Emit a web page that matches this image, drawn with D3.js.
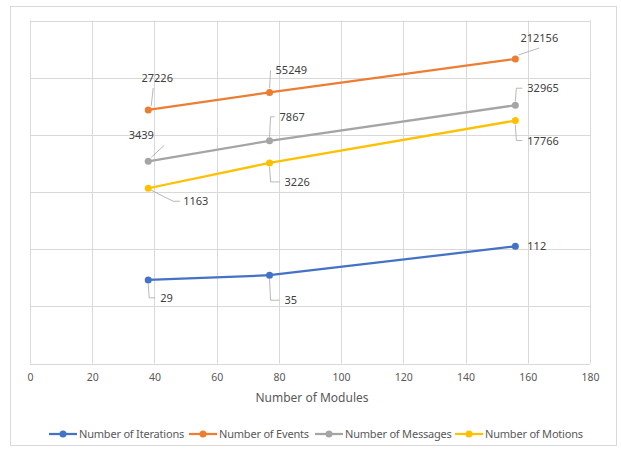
<!DOCTYPE html>
<html><head><meta charset="utf-8">
<script src="https://cdn.jsdelivr.net/npm/d3@7"></script>
<style>body{margin:0;background:#fff;} svg{display:block;font-family:"Noto Sans",sans-serif;}</style>
</head><body>
<svg id="c" width="621" height="451"></svg>
<script>
const modules = [38, 77, 156];
const iterations = [29, 35, 112];
const events = [27226, 55249, 212156];
const messages = [3439, 7867, 32965];
const motions = [1163, 3226, 17766];
const seriesNames = ["Number of Iterations", "Number of Events", "Number of Messages", "Number of Motions"];
const colors = ["#4472C4", "#ED7D31", "#A5A5A5", "#FFC000"];
const xTicks = [0, 20, 40, 60, 80, 100, 120, 140, 160, 180];
const yGrid = [1, 10, 100, 1000, 10000, 100000, 1000000];

const seriesValues = [iterations, events, messages, motions];
// label placement style per series/point: [dx, dy, leader type]
const labelStyle = [
  [{dx:12,dy:18,t:"dr"},{dx:15,dy:25,t:"dr"},{dx:12,dy:0,t:"none"}],
  [{dx:9,dy:-32,t:"diag",ex:5,ey:-22},{dx:6,dy:-22,t:"ur"},{dx:24,dy:-21,t:"diag",ex:24,ey:-11}],
  [{dx:-7,dy:-26,t:"diag",ex:16,ey:-16},{dx:10,dy:-24,t:"ur"},{dx:12,dy:-17,t:"ur"}],
  [{dx:35,dy:13,t:"dlr",ex:25},{dx:15,dy:19,t:"dr"},{dx:12,dy:20,t:"dr"}]
];

const svg = d3.select("#c");
svg.append("rect").attr("x",10.5).attr("y",6.5).attr("width",606).attr("height",439)
  .attr("fill","#fff").attr("stroke","#d9d9d9");

const x = d3.scaleLinear().domain([0,180]).range([30,590]);
const y = d3.scaleLog().domain([1,1000000]).range([363.5,20.5]);

const g = svg.append("g");
g.selectAll(".vg").data(xTicks).join("line")
  .attr("x1",d=>Math.round(x(d))+0.5).attr("x2",d=>Math.round(x(d))+0.5)
  .attr("y1",y(1000000)).attr("y2",y(1)).attr("stroke","#d9d9d9");
g.selectAll(".hg").data(yGrid).join("line")
  .attr("y1",d=>Math.round(y(d))+0.5).attr("y2",d=>Math.round(y(d))+0.5)
  .attr("x1",x(0)).attr("x2",x(180)).attr("stroke","#d9d9d9");

const xAxis = d3.axisBottom(x).tickValues(xTicks).tickSize(0).tickPadding(10);
const ax = svg.append("g").attr("transform",`translate(0,${y(1)})`).call(xAxis);
ax.select(".domain").remove();
ax.selectAll("text").attr("fill","#595959").style("font-size","10.5px").style("font-family","'Noto Sans',sans-serif");

svg.append("text").attr("x",312).attr("y",402).attr("text-anchor","middle")
  .attr("fill","#595959").style("font-size","12px").text("Number of Modules");

const line = d3.line().x((d,i)=>x(modules[i])).y(d=>y(d));
seriesValues.forEach((vals,si)=>{
  svg.append("path").datum(vals).attr("d",line).attr("fill","none")
    .attr("stroke",colors[si]).attr("stroke-width",2.25).attr("stroke-linecap","round");
  svg.selectAll(null).data(vals).join("circle")
    .attr("cx",(d,i)=>x(modules[i])).attr("cy",d=>y(d)).attr("r",3.5).attr("fill",colors[si]);
  vals.forEach((v,i)=>{
    const px = x(modules[i]), py = y(v), s = labelStyle[si][i];
    const tx = px + s.dx, ty = py + s.dy;
    let pts = null;
    if (s.t==="dr") pts = [[px,py+4],[px+1,ty],[tx-5,ty]];
    else if (s.t==="ur") pts = [[px,py-4],[px+1,ty],[tx-5,ty]];
    else if (s.t==="diag") pts = [[px+3,py-4],[px+s.ex,py+s.ey]];
    else if (s.t==="dlr") pts = [[px+3,py+2],[px+s.ex,ty],[px+s.ex+7,ty]];
    if (pts) svg.append("polyline").attr("points",pts.map(p=>p.join(",")).join(" "))
      .attr("fill","none").attr("stroke","#a6a6a6").attr("stroke-width",0.8);
    const anchor = s.t==="diag" ? "middle" : "start";
    let ax2 = tx;
    if (s.t==="dlr") ax2 = px + s.ex + 10;
    svg.append("text").attr("x",ax2).attr("y",ty+4).attr("text-anchor",anchor)
      .attr("fill","#404040").style("font-size","11px").text(v);
  });
});

// legend
const legX = [49, 189, 315, 455];
const lg = svg.append("g");
seriesNames.forEach((n,i)=>{
  const lx = legX[i], ly = 434;
  lg.append("line").attr("x1",lx).attr("x2",lx+28).attr("y1",ly).attr("y2",ly)
    .attr("stroke",colors[i]).attr("stroke-width",2.25);
  lg.append("circle").attr("cx",lx+14).attr("cy",ly).attr("r",3.5).attr("fill",colors[i]);
  lg.append("text").attr("x",lx+30).attr("y",ly+4).attr("fill","#595959")
    .style("font-size","11px").style("letter-spacing","-0.2px").text(n);
});
</script>
</body></html>
